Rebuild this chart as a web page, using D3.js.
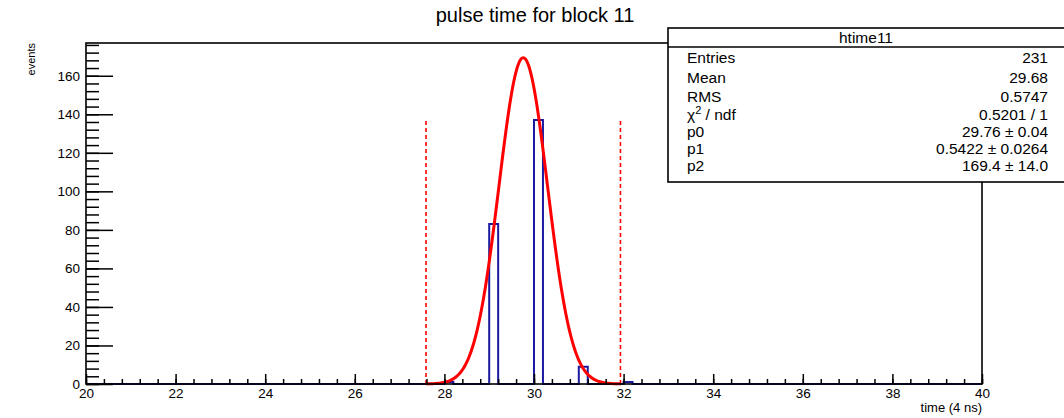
<!DOCTYPE html>
<html>
<head>
<meta charset="utf-8">
<script src="https://cdn.jsdelivr.net/npm/d3@7"></script>
<style>
  body { margin: 0; background: #fff; }
  text { font-family: "Liberation Sans", Arial, sans-serif; fill: #000; }
</style>
</head>
<body>
<script>
// histogram: 100 bins of 0.2 from 20 to 40, only non-empty bins listed
var binEdges = [20, 40];
var binWidth = 0.2;
var binLow = [28.0, 29.0, 30.0, 31.0, 32.0];
var binCounts = [1, 83, 137, 9, 1];

// gaussian fit parameters and range
var fitParams = [29.76, 0.5422, 169.4];  // p0 mean, p1 sigma, p2 constant
var fitRange = [27.59, 31.93];
var rangeLineTop = 137;

var statNames = ["Entries", "Mean", "RMS", "chi", "p0", "p1", "p2"];
var statValues = ["231", "29.68", "0.5747", "0.5201 / 1", "29.76 \u00b1 0.04", "0.5422 \u00b1 0.0264", "169.4 \u00b1 14.0"];

var xTicks = [20, 22, 24, 26, 28, 30, 32, 34, 36, 38, 40];
var yTicks = [0, 20, 40, 60, 80, 100, 120, 140, 160];

var svg = d3.select("body").append("svg").attr("width", 1064).attr("height", 418);

var x = d3.scaleLinear().domain([20, 40]).range([86, 982]);
var y = d3.scaleLinear().domain([0, 177]).range([384, 43]);

// title
svg.append("text").attr("x", 535).attr("y", 22).attr("text-anchor", "middle")
  .attr("font-size", 20).text("pulse time for block 11");

// histogram outline as step path
var nBins = Math.round((binEdges[1] - binEdges[0]) / binWidth);
var counts = d3.range(nBins).map(function(i) {
  var lo = binEdges[0] + i * binWidth;
  var k = binLow.findIndex(function(b) { return Math.abs(b - lo) < 1e-6; });
  return k >= 0 ? binCounts[k] : 0;
});
var pts = [[binEdges[0], 0]];
counts.forEach(function(c, i) {
  var lo = binEdges[0] + i * binWidth;
  pts.push([lo, c]);
  pts.push([lo + binWidth, c]);
});
pts.push([binEdges[1], 0]);
svg.append("path")
  .attr("d", d3.line().x(function(d) { return x(d[0]); }).y(function(d) { return y(d[1]); })(pts))
  .attr("fill", "none").attr("stroke", "#1a1aa0").attr("stroke-width", 2);

// fit range lines
svg.selectAll("line.range").data(fitRange).enter().append("line")
  .attr("class", "range")
  .attr("x1", function(d) { return x(d); }).attr("x2", function(d) { return x(d); })
  .attr("y1", y(0)).attr("y2", y(rangeLineTop))
  .attr("stroke", "#ff0000").attr("stroke-width", 1.6).attr("stroke-dasharray", "4,3");

// fit curve
var fitPts = d3.range(0, 201).map(function(i) {
  var xv = fitRange[0] + (fitRange[1] - fitRange[0]) * i / 200;
  var z = (xv - fitParams[0]) / fitParams[1];
  return [xv, fitParams[2] * Math.exp(-0.5 * z * z)];
});
svg.append("path")
  .attr("d", d3.line().curve(d3.curveBasis).x(function(d) { return x(d[0]); }).y(function(d) { return y(d[1]); })(fitPts))
  .attr("fill", "none").attr("stroke", "#ff0000").attr("stroke-width", 3);

// frame, drawn over the histogram like ROOT does
svg.append("rect")
  .attr("x", x(20)).attr("y", y(177))
  .attr("width", x(40) - x(20)).attr("height", y(0) - y(177))
  .attr("fill", "none").attr("stroke", "#000").attr("stroke-width", 1.6);

// y axis: major and minor ticks go inward
var yMinor = svg.append("g").attr("transform", "translate(" + x(20) + ",0)")
  .call(d3.axisLeft(y).tickValues(d3.range(0, 177, 4)).tickSize(-13).tickFormat(""));
var yMajor = svg.append("g").attr("transform", "translate(" + x(20) + ",0)")
  .call(d3.axisLeft(y).tickValues(yTicks).tickSize(-27).tickPadding(6));

// x axis
var xMinor = svg.append("g").attr("transform", "translate(0," + y(0) + ")")
  .call(d3.axisBottom(x).tickValues(d3.range(20, 40.01, 0.4)).tickSize(-5).tickFormat(""));
var xMajor = svg.append("g").attr("transform", "translate(0," + y(0) + ")")
  .call(d3.axisBottom(x).tickValues(xTicks).tickSize(-10).tickPadding(4));

[yMinor, yMajor, xMinor, xMajor].forEach(function(g) {
  g.select(".domain").remove();
  g.selectAll("line").attr("stroke", "#000").attr("stroke-width", 1.5);
  g.selectAll("text").attr("font-size", 13.5).attr("fill", "#000")
    .attr("font-family", "Liberation Sans, Arial, sans-serif");
});

// axis titles
svg.append("text").attr("transform", "translate(35," + y(177) + ") rotate(-90)")
  .attr("text-anchor", "end").attr("font-size", 11).text("events");
svg.append("text").attr("x", x(40)).attr("y", 412).attr("text-anchor", "end")
  .attr("font-size", 13).text("time (4 ns)");

// stats box
var box = svg.append("g");
box.append("rect").attr("x", 668).attr("y", 28).attr("width", 400).attr("height", 154)
  .attr("fill", "#fff").attr("stroke", "#000").attr("stroke-width", 1.6);
box.append("line").attr("x1", 668).attr("x2", 1064).attr("y1", 47).attr("y2", 47)
  .attr("stroke", "#000").attr("stroke-width", 1.6);
box.append("text").attr("x", 866).attr("y", 43).attr("text-anchor", "middle")
  .attr("font-size", 15.5).text("htime11");
var rowY = [63, 83, 102, 120, 137, 154, 171];
statNames.forEach(function(n, i) {
  var t = box.append("text").attr("x", 687).attr("y", rowY[i]).attr("font-size", 15.5);
  if (n === "chi") {
    t.append("tspan").text("\u03c7");
    t.append("tspan").attr("font-size", 11).attr("dy", -6).text("2");
    t.append("tspan").attr("dy", 6).text(" / ndf");
  } else {
    t.text(n);
  }
  box.append("text").attr("x", 1048).attr("y", rowY[i]).attr("text-anchor", "end")
    .attr("font-size", 15.5).text(statValues[i]);
});
</script>
</body>
</html>
